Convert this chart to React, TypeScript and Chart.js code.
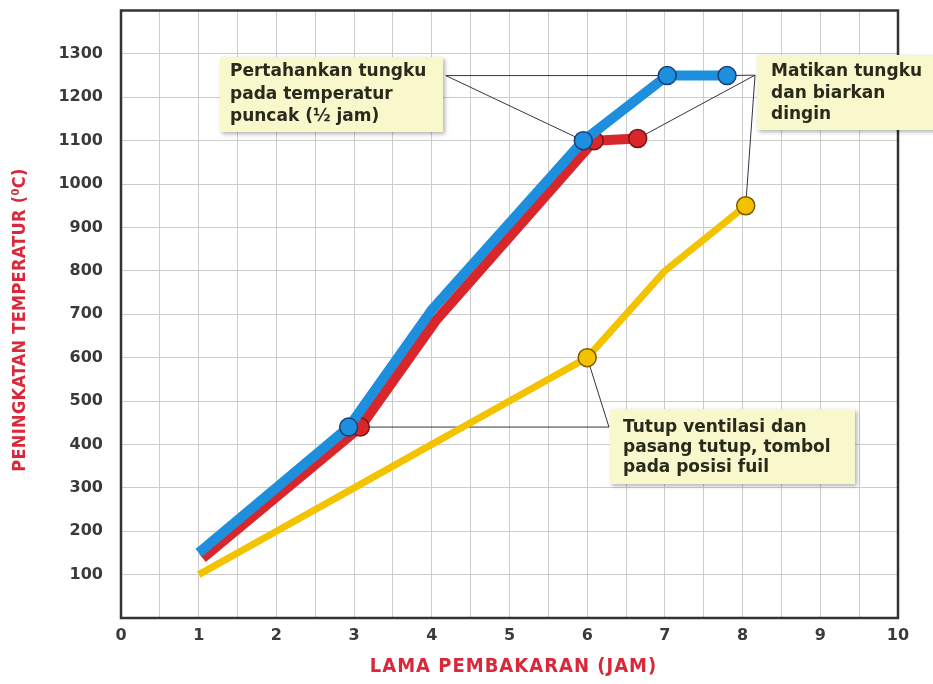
import { useEffect, useRef } from "react";
import { Chart, registerables } from "chart.js";

Chart.register(...registerables);

// ---- data ----
const xTickLabels = ["0", "1", "2", "3", "4", "5", "6", "7", "8", "9", "10"];
const yTickLabels = ["100", "200", "300", "400", "500", "600", "700", "800", "900", "1000", "1100", "1200", "1300"];

const blueX = [1, 2.93, 4, 5.95, 7.03, 7.8];
const blueY = [150, 440, 710, 1100, 1250, 1250];
const blueMarked = [false, true, false, true, true, true];

const redX = [1.05, 3.08, 4.05, 6.09, 6.65];
const redY = [138, 440, 685, 1100, 1105];
const redMarked = [false, true, false, true, true];

const yellowX = [1, 2, 3, 4, 5, 6, 7, 8.04];
const yellowY = [100, 200, 300, 400, 500, 600, 800, 950];
const yellowMarked = [false, false, false, false, false, true, false, true];

const xTitle = "LAMA PEMBAKARAN (JAM)";
const yTitle = "PENINGKATAN TEMPERATUR (\u2070C)";

const note1Lines = ["Pertahankan tungku", "pada temperatur", "puncak (\u00BD jam)"];
const note2Lines = ["Matikan tungku", "dan biarkan", "dingin"];
const note3Lines = ["Tutup ventilasi dan", "pasang tutup, tombol", "pada posisi fuil"];

// callout vertex (data coords) and the points it points to: [datasetIndex, pointIndex]
const note1Vertex = [4.18, 1250];
const note1Targets = [[1, 3], [1, 4]];
const note2Vertex = [8.16, 1251];
const note2Targets = [[1, 5], [2, 4], [0, 7]];
const note3Vertex = [6.28, 440];
const note3Targets = [[2, 1], [0, 5]];

// ---- layout / style (pixels) ----
const noteBoxes = [
  { lines: note1Lines, vertex: note1Vertex, targets: note1Targets, x: 220, y: 57, w: 223, h: 75, tx: 230, ty: 72, lh: 22.5 },
  { lines: note2Lines, vertex: note2Vertex, targets: note2Targets, x: 757, y: 55, w: 180, h: 75, tx: 771, ty: 72, lh: 21.5 },
  { lines: note3Lines, vertex: note3Vertex, targets: note3Targets, x: 610, y: 409, w: 245, h: 75, tx: 623, ty: 428, lh: 20 },
];

const toPoints = (xs: number[], ys: number[]) => xs.map((x, i) => ({ x, y: ys[i] }));
const radii = (m: boolean[]) => m.map((v) => (v ? 9 : 0));

const decorPlugin = {
  id: "decor",
  beforeDatasetsDraw(chart: any) {
    const { ctx, chartArea: a, scales } = chart;
    const xs = scales.x, ys = scales.y;
    ctx.save();
    // frame
    ctx.strokeStyle = "#333333";
    ctx.lineWidth = 2.5;
    ctx.strokeRect(a.left, a.top, a.right - a.left, a.bottom - a.top);
    // callout lines
    ctx.strokeStyle = "#333344";
    ctx.lineWidth = 1;
    for (const b of noteBoxes) {
      const vx = xs.getPixelForValue(b.vertex[0]);
      const vy = ys.getPixelForValue(b.vertex[1]);
      for (const [di, pi] of b.targets) {
        const el = chart.getDatasetMeta(di).data[pi];
        ctx.beginPath();
        ctx.moveTo(vx, vy);
        ctx.lineTo(el.x, el.y);
        ctx.stroke();
      }
    }
    ctx.restore();
  },
  afterDraw(chart: any) {
    const { ctx, chartArea: a } = chart;
    ctx.save();
    for (const b of noteBoxes) {
      ctx.shadowColor = "rgba(0,0,0,0.3)";
      ctx.shadowBlur = 4;
      ctx.shadowOffsetX = 2;
      ctx.shadowOffsetY = 2;
      ctx.fillStyle = "#f8f8cc";
      ctx.fillRect(b.x, b.y, b.w, b.h);
      ctx.shadowColor = "transparent";
      ctx.fillStyle = "#2a2a1c";
      ctx.font = "bold 17px 'DejaVu Sans', sans-serif";
      ctx.textBaseline = "middle";
      ctx.textAlign = "left";
      b.lines.forEach((t: string, i: number) => ctx.fillText(t, b.tx, b.ty + i * b.lh));
    }
    // axis titles
    ctx.fillStyle = "#d9283a";
    ctx.textAlign = "center";
    ctx.textBaseline = "middle";
    ctx.font = "bold 20px 'Liberation Sans Narrow', 'DejaVu Sans Condensed', 'Liberation Sans', sans-serif";
    (ctx as any).letterSpacing = "1px";
    ctx.fillText(xTitle, (a.left + a.right) / 2 + 4, 667);
    ctx.translate(20, 320);
    ctx.rotate(-Math.PI / 2);
    ctx.font = "bold 18px 'Liberation Sans Narrow', 'DejaVu Sans Condensed', 'Liberation Sans', sans-serif";
    (ctx as any).letterSpacing = "0.3px";
    ctx.fillText(yTitle, 0, 0);
    ctx.restore();
  },
};

export default function App() {
  const ref = useRef<HTMLCanvasElement | null>(null);
  useEffect(() => {
    document.body.style.margin = "0";
    if (!ref.current) return;
    const chart = new Chart(ref.current, {
      type: "line",
      data: {
        datasets: [
          {
            data: toPoints(yellowX, yellowY),
            borderColor: "#f4c300",
            backgroundColor: "#f2c200",
            pointBorderColor: "#7a5a00",
            borderWidth: 7,
            pointRadius: radii(yellowMarked),
            pointBorderWidth: 1.5,
            borderJoinStyle: "round",
          },
          {
            data: toPoints(blueX, blueY),
            borderColor: "#1d8fdc",
            backgroundColor: "#1d8fdc",
            pointBorderColor: "#1a3e78",
            borderWidth: 10,
            pointRadius: radii(blueMarked),
            pointBorderWidth: 1.5,
            borderJoinStyle: "round",
          },
          {
            data: toPoints(redX, redY),
            borderColor: "#d8262b",
            backgroundColor: "#d8262b",
            pointBorderColor: "#7a1414",
            borderWidth: 10,
            pointRadius: radii(redMarked),
            pointBorderWidth: 1.5,
            borderJoinStyle: "round",
          },
        ],
      },
      options: {
        responsive: false,
        animation: false,
        layout: { padding: { top: 7, right: 35, left: 0, bottom: 0 } },
        plugins: { legend: { display: false }, tooltip: { enabled: false } },
        elements: { line: { tension: 0 } },
        scales: {
          x: {
            type: "linear",
            min: 0,
            max: 10,
            afterFit: (s: any) => { s.height = 66; s.paddingLeft = 0; s.paddingRight = 0; },
            ticks: {
              stepSize: 0.5,
              autoSkip: false,
              maxRotation: 0,
              padding: 8,
              color: "#3a3a3a",
              font: { family: "'DejaVu Sans', sans-serif", size: 16, weight: "bold" },
              callback: (v: any) => {
                const n = Number(v);
                return Number.isInteger(n) ? xTickLabels[n] : "";
              },
            },
            grid: { color: "#cccccc", lineWidth: 1, drawTicks: false },
            border: { display: false },
          },
          y: {
            type: "linear",
            min: 0,
            max: 1400,
            afterFit: (s: any) => { s.width = 121; s.paddingTop = 0; s.paddingBottom = 0; },
            ticks: {
              stepSize: 100,
              autoSkip: false,
              padding: 18,
              color: "#3a3a3a",
              font: { family: "'DejaVu Sans', sans-serif", size: 16, weight: "bold" },
              callback: (v: any) => {
                const i = Math.round(Number(v) / 100) - 1;
                return i >= 0 && i < yTickLabels.length ? yTickLabels[i] : "";
              },
            },
            grid: { color: "#cccccc", lineWidth: 1, drawTicks: false },
            border: { display: false },
          },
        },
      },
      plugins: [decorPlugin],
    });
    return () => chart.destroy();
  }, []);
  return (
    <div style={{ width: 933, height: 684 }}>
      <canvas ref={ref} width={933} height={684} />
    </div>
  );
}
